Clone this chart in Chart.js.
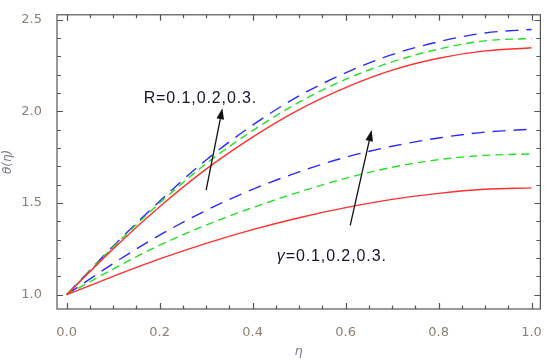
<!DOCTYPE html>
<html>
<head>
<meta charset="utf-8">
<script src="https://cdn.jsdelivr.net/npm/chart.js@4/dist/chart.umd.min.js"></script>
<style>
  html, body { margin: 0; padding: 0; background: #fff; }
  #wrap { width: 550px; height: 363px; }
</style>
</head>
<body>
<div id="wrap"><canvas id="thetaChart" width="550" height="363"></canvas></div>
<script>
// eta values along the x axis
const eta = [0, 0.1, 0.2, 0.3, 0.4, 0.5, 0.6, 0.7, 0.8, 0.9, 1.0];

// upper group (R = 0.1, 0.2, 0.3)
const thetaR1 = [1.0, 1.25, 1.48, 1.685, 1.86, 2.01, 2.13, 2.225, 2.29, 2.33, 2.347];
const thetaR2 = [1.0, 1.26, 1.50, 1.715, 1.895, 2.05, 2.175, 2.27, 2.34, 2.385, 2.398];
const thetaR3 = [1.0, 1.265, 1.51, 1.735, 1.925, 2.085, 2.21, 2.31, 2.38, 2.428, 2.447];

// lower group (gamma = 0.1, 0.2, 0.3)
const thetaG1 = [1.0, 1.10, 1.195, 1.28, 1.355, 1.42, 1.475, 1.52, 1.553, 1.575, 1.583];
const thetaG2 = [1.0, 1.14, 1.27, 1.38, 1.475, 1.56, 1.635, 1.695, 1.737, 1.76, 1.768];
const thetaG3 = [1.0, 1.17, 1.325, 1.46, 1.575, 1.67, 1.75, 1.81, 1.855, 1.887, 1.903];

const xTicks = [0, 0.2, 0.4, 0.6, 0.8, 1.0];
const yTicks = [1.0, 1.5, 2.0, 2.5];
const xMinorStep = 0.05;
const yMinorStep = 0.1;

const RED = "#ff3030";
const GREEN = "#22e022";
const BLUE = "#2828ff";

function pts(ys) {
    return eta.map((x, i) => ({x: x, y: ys[i]}));
}

function line(ys, color, dash) {
    return {
        data: pts(ys),
        borderColor: color,
        borderWidth: 1.4,
        borderDash: dash,
        pointRadius: 0,
        showLine: true,
        fill: false,
        cubicInterpolationMode: "monotone"
    };
}

function arrow(ctx, x0, y0, x1, y1) {
    const ang = Math.atan2(y1 - y0, x1 - x0);
    const len = 11, half = 3.8;
    const bx = x1 - len * Math.cos(ang), by = y1 - len * Math.sin(ang);
    ctx.beginPath();
    ctx.moveTo(x0, y0);
    ctx.lineTo(bx, by);
    ctx.stroke();
    ctx.beginPath();
    ctx.moveTo(x1, y1);
    ctx.lineTo(bx + half * Math.sin(ang), by - half * Math.cos(ang));
    ctx.lineTo(bx - half * Math.sin(ang), by + half * Math.cos(ang));
    ctx.closePath();
    ctx.fill();
}

const framePlugin = {
    id: "frame",
    afterDraw(chart) {
        const ctx = chart.ctx;
        const xs = chart.scales.x, ys = chart.scales.y;
        const a = chart.chartArea;
        ctx.save();
        ctx.strokeStyle = "#555";
        ctx.lineWidth = 1.2;
        ctx.strokeRect(a.left, a.top, a.right - a.left, a.bottom - a.top);

        // x ticks top and bottom, pointing in
        for (let v = 0; v <= 1.0001; v += xMinorStep) {
            const px = Math.round(xs.getPixelForValue(v)) + 0.5;
            const major = xTicks.some(t => Math.abs(t - v) < 1e-6);
            const l = major ? 6 : 3.5;
            ctx.beginPath();
            ctx.moveTo(px, a.bottom); ctx.lineTo(px, a.bottom - l);
            ctx.moveTo(px, a.top); ctx.lineTo(px, a.top + l);
            ctx.stroke();
        }
        // y ticks left and right
        for (let v = 1.0; v <= 2.5001; v += yMinorStep) {
            const py = Math.round(ys.getPixelForValue(v)) + 0.5;
            const major = yTicks.some(t => Math.abs(t - v) < 1e-6);
            const l = major ? 6 : 4;
            ctx.beginPath();
            ctx.moveTo(a.left, py); ctx.lineTo(a.left + l, py);
            ctx.moveTo(a.right, py); ctx.lineTo(a.right - l, py);
            ctx.stroke();
        }

        // annotations
        ctx.strokeStyle = "#111";
        ctx.fillStyle = "#111";
        ctx.lineWidth = 1.3;
        arrow(ctx, xs.getPixelForValue(0.30), ys.getPixelForValue(1.571),
                   xs.getPixelForValue(0.335), ys.getPixelForValue(2.017));
        arrow(ctx, xs.getPixelForValue(0.61), ys.getPixelForValue(1.378),
                   xs.getPixelForValue(0.656), ys.getPixelForValue(1.898));

        ctx.fillStyle = "#15152a";
        ctx.textBaseline = "middle";
        ctx.textAlign = "left";
        ctx.letterSpacing = "0.9px";
        ctx.font = "16px 'Liberation Sans', Arial, sans-serif";
        ctx.fillText("R=0.1,0.2,0.3.", xs.getPixelForValue(0.1656), ys.getPixelForValue(2.07));
        const gx = xs.getPixelForValue(0.452), gy = ys.getPixelForValue(1.208);
        ctx.font = "italic 16px 'Liberation Sans', Arial, sans-serif";
        ctx.fillText("\u03b3", gx, gy);
        const gw = ctx.measureText("\u03b3").width;
        ctx.font = "16px 'Liberation Sans', Arial, sans-serif";
        ctx.fillText("=0.1,0.2,0.3.", gx + gw, gy);
        ctx.restore();
    }
};

window.onload = function() {
    const ctx = document.getElementById("thetaChart").getContext("2d");
    new Chart(ctx, {
        type: "scatter",
        data: {
            datasets: [
                line(thetaR1, RED, []),
                line(thetaR2, GREEN, [8, 5]),
                line(thetaR3, BLUE, [13, 8]),
                line(thetaG1, RED, []),
                line(thetaG2, GREEN, [8, 5]),
                line(thetaG3, BLUE, [13, 8])
            ]
        },
        options: {
            responsive: false,
            animation: false,
            layout: {padding: {top: 6, right: 7, left: 0, bottom: 0}},
            plugins: {legend: {display: false}, tooltip: {enabled: false}},
            scales: {
                x: {
                    type: "linear",
                    min: -0.0208,
                    max: 1.019,
                    border: {display: false},
                    grid: {display: false},
                    afterBuildTicks: s => { s.ticks = xTicks.map(v => ({value: v})); },
                    afterFit: s => { s.height = 54; },
                    ticks: {
                        padding: 8,
                        color: "#8a7f72",
                        font: {family: "'DejaVu Sans'", size: 13},
                        callback: v => v.toFixed(1),
                        maxRotation: 0
                    },
                    title: {
                        display: true,
                        text: "\u03b7",
                        color: "#7a7a8a",
                        font: {family: "'DejaVu Sans'", size: 13, style: "italic"},
                        padding: {top: 0, bottom: 4}
                    }
                },
                y: {
                    type: "linear",
                    min: 0.922,
                    max: 2.527,
                    border: {display: false},
                    grid: {display: false},
                    afterBuildTicks: s => { s.ticks = yTicks.map(v => ({value: v})); },
                    afterFit: s => { s.width = 57; },
                    ticks: {
                        padding: 7,
                        color: "#8a7f72",
                        font: {family: "'DejaVu Sans'", size: 13},
                        callback: v => v.toFixed(1)
                    },
                    title: {
                        display: true,
                        text: "\u03b8(\u03b7)",
                        color: "#7a7a8a",
                        font: {family: "'DejaVu Sans'", size: 12, style: "italic"},
                        padding: {top: 1, bottom: 0}
                    }
                }
            }
        },
        plugins: [framePlugin]
    });
};
</script>
</body>
</html>
